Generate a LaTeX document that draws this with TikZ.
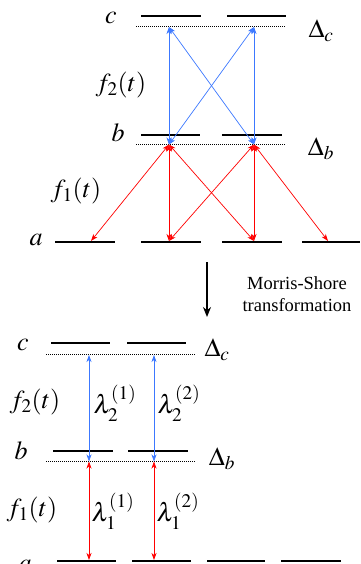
\documentclass[tikz,border=0pt]{standalone}
\usepackage{mathptmx}
\usepackage[no-math]{fontspec}
\setmainfont{Liberation Serif}
\usetikzlibrary{arrows.meta,positioning}
\definecolor{pumpred}{RGB}{255,0,0}
\definecolor{stokesblue}{RGB}{60,120,255}
\tikzset{
  lvl/.style={line width=1.7pt,draw=black},
  detun/.style={line width=1pt,dash pattern=on 1pt off 1pt},
  lbl/.style={inner sep=0pt,font=\fontsize{26}{30}\selectfont},
  redarr/.style={<->,>={Stealth[length=7pt,width=5pt,inset=2pt]},line width=0.7pt,color=pumpred},
  bluearr/.style={<->,>={Stealth[length=7pt,width=5pt,inset=2pt]},line width=0.7pt,color=stokesblue},
  msarr/.style={->,>={Stealth[length=10pt,width=8pt]},line width=1.8pt}
}
\begin{document}
\begin{tikzpicture}[x=1pt,y=-1pt]
  \useasboundingbox (0,0) rectangle (360,564);
  % --- original system
  \draw[lvl] (141,16)--(201,16) (227,16)--(286,16);
  \draw[detun] (136,26.5)--(286,26.5);
  \draw[lvl] (141,135)--(200,135) (222,135)--(282,135);
  \draw[detun] (136,144.5)--(286,144.5);
  \draw[lvl] (55,242)--(115,242) (141,242)--(201,242) (222,242)--(282,242) (302,242)--(360,242);
  \node[lbl] (lc) at (111,18) {$c$};
  \node[lbl] (lb) at (118,133) {$b$};
  \node[lbl] (la) at (36,240) {$a$};
  \node[lbl] (dc) at (321,31) {$\Delta_c$};
  \node[lbl] (db) at (321,149) {$\Delta_b$};
  \node[lbl] (f2) at (121,85) {$f_2(t)$};
  \node[lbl] (f1) at (76,191) {$f_1(t)$};
  \coordinate (c1) at (169,27);
  \coordinate (c2) at (254,27);
  \coordinate (b1) at (169,144.5);
  \coordinate (b2) at (254,144.5);
  \coordinate (a1) at (91,241);
  \coordinate (a2) at (169,241);
  \coordinate (a3) at (254,241);
  \coordinate (a4) at (328,241);
  \draw[bluearr] (c1)--(b1);
  \draw[bluearr] (c1)--(b2);
  \draw[bluearr] (c2)--(b1);
  \draw[bluearr] (c2)--(b2);
  \draw[redarr] (b1)--(a1);
  \draw[redarr] (b1)--(a2);
  \draw[redarr] (b1)--(a3);
  \draw[redarr] (b2)--(a2);
  \draw[redarr] (b2)--(a3);
  \draw[redarr] (b2)--(a4);
  % --- transformation
  \coordinate (ms1) at (207,262);
  \coordinate (ms2) at (207,317);
  \draw[msarr] (ms1)--(ms2);
  \node[align=center,font=\fontsize{18.5}{22}\selectfont,inner sep=0pt] (mstxt) at (297,294) {Morris-Shore\\transformation};
  % --- MS basis
  \draw[lvl] (51,343)--(110,343) (127,343)--(186,343);
  \draw[detun] (46,354.5)--(196,354.5);
  \draw[lvl] (53,451)--(113,451) (128,451)--(188,451);
  \draw[detun] (46,461.5)--(196,461.5);
  \draw[lvl] (57,561)--(116,561) (132,561)--(191,561) (207,561)--(265,561) (281,561)--(341,561);
  \node[lbl] (mc) at (23,345) {$c$};
  \node[lbl] (mb) at (21,451) {$b$};
  \node[lbl] (ma) at (25,566) {$a$};
  \node[lbl] (mdc) at (217,350) {$\Delta_c$};
  \node[lbl] (mdb) at (222,459) {$\Delta_b$};
  \node[lbl] (mf2) at (35,402) {$f_2(t)$};
  \node[lbl] (mf1) at (32,510) {$f_1(t)$};
  \coordinate (C1) at (89,355);
  \coordinate (C2) at (154,355);
  \coordinate (B1) at (89,461.5);
  \coordinate (B2) at (154,461.5);
  \coordinate (A1) at (89,560);
  \coordinate (A2) at (154,560);
  \draw[bluearr] (C1)--(B1);
  \draw[bluearr] (C2)--(B2);
  \draw[redarr] (B1)--(A1);
  \draw[redarr] (B2)--(A2);
  \node[lbl] (l21) at (115,403) {$\lambda_2^{(1)}$};
  \node[lbl] (l22) at (179,403) {$\lambda_2^{(2)}$};
  \node[lbl] (l11) at (113,511) {$\lambda_1^{(1)}$};
  \node[lbl] (l12) at (178,511) {$\lambda_1^{(2)}$};
\end{tikzpicture}
\end{document}
